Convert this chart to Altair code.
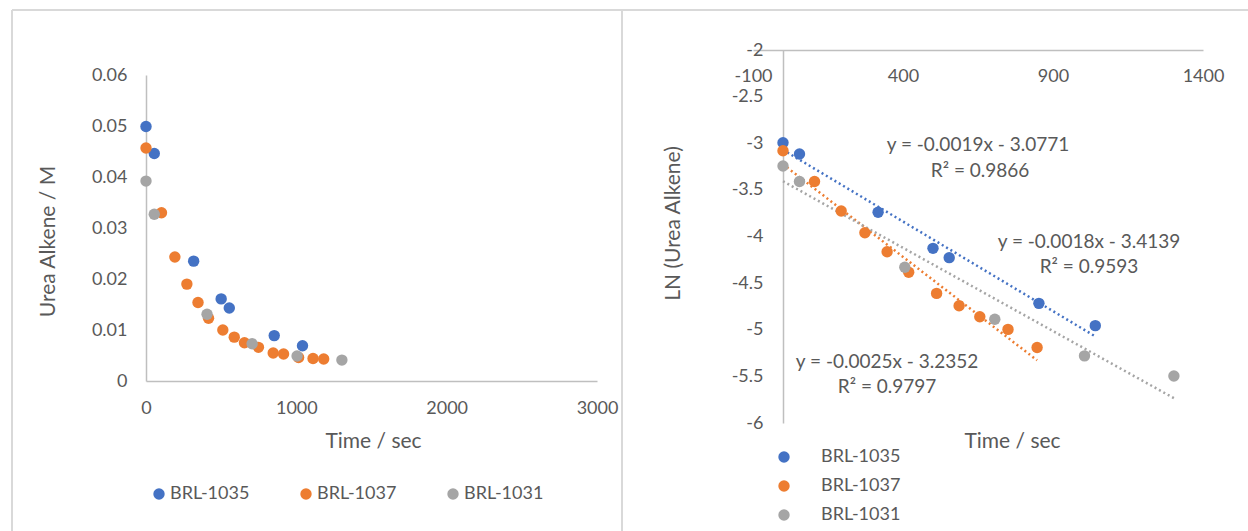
import altair as alt
import pandas as pd

SERIES = ["BRL-1035", "BRL-1037", "BRL-1031"]
COLORS = ["#4472C4", "#ED7D31", "#A5A5A5"]

# ---- left panel: concentration vs time ----
t_1035 = [0, 55, 317, 500, 554, 853, 1041]
c_1035 = [0.0499, 0.0446, 0.0235, 0.0161, 0.0143, 0.0089, 0.0069]

t_1037 = [0, 103, 192, 272, 346, 416, 511, 587, 655, 748, 846, 915, 1015, 1111, 1182]
c_1037 = [0.0457, 0.0330, 0.0243, 0.0190, 0.0154, 0.0123, 0.0100, 0.0086,
          0.0075, 0.0066, 0.0055, 0.0053, 0.0046, 0.0044, 0.0043]

t_1031 = [0, 55, 406, 706, 1005, 1303]
c_1031 = [0.0392, 0.0327, 0.0131, 0.0073, 0.0049, 0.0041]

# ---- right panel: LN(concentration) vs time ----
lt_1035 = [0, 55, 317, 500, 554, 853, 1041]
ln_1035 = [-2.994, -3.115, -3.74, -4.127, -4.227, -4.717, -4.956]

lt_1037 = [0, 105, 194, 273, 347, 419, 512, 587, 656, 750, 847]
ln_1037 = [-3.08, -3.41, -3.727, -3.96, -4.163, -4.384, -4.61, -4.742, -4.86, -4.996, -5.19]

lt_1031 = [0, 55, 406, 706, 1005, 1303]
ln_1031 = [-3.244, -3.41, -4.33, -4.888, -5.28, -5.496]

# trendline labels
eq_text = ["y = -0.0019x - 3.0771", "R\u00b2 = 0.9866",
           "y = -0.0018x - 3.4139", "R\u00b2 = 0.9593",
           "y = -0.0025x - 3.2352", "R\u00b2 = 0.9797"]
eq_t = [650, 657, 1020, 1020, 347, 347]
eq_ln = [-3.019, -3.298, -4.059, -4.327, -5.346, -5.614]

left_x_ticks = [0, 1000, 2000, 3000]
left_y_ticks = [0, 0.01, 0.02, 0.03, 0.04, 0.05, 0.06]
right_x_ticks = [-100, 400, 900, 1400]
right_y_ticks = [-6, -5.5, -5, -4.5, -4, -3.5, -3, -2.5, -2]

FONT = "Lato"
TXT = "#595959"

left_df = pd.DataFrame({
    "t": t_1035 + t_1037 + t_1031,
    "c": c_1035 + c_1037 + c_1031,
    "series": [SERIES[0]] * len(t_1035) + [SERIES[1]] * len(t_1037) + [SERIES[2]] * len(t_1031),
})
right_df = pd.DataFrame({
    "t": lt_1035 + lt_1037 + lt_1031,
    "ln": ln_1035 + ln_1037 + ln_1031,
    "series": [SERIES[0]] * len(lt_1035) + [SERIES[1]] * len(lt_1037) + [SERIES[2]] * len(lt_1031),
})
eq_df = pd.DataFrame({"label": eq_text, "t": eq_t, "ln": eq_ln})

axis_common = dict(
    grid=False, ticks=False, tickSize=0, domainColor="#BFBFBF", domainWidth=1.5,
    labelFont=FONT, labelFontSize=18, labelColor=TXT, labelFlush=False,
    titleFont=FONT, titleFontSize=21, titleColor=TXT, titleFontWeight="normal",
    labelExpr="'' + datum.value",
)
legend_common = dict(
    title=None, labelFont=FONT, labelFontSize=18, labelColor=TXT,
    symbolType="circle", symbolSize=130, symbolStrokeWidth=0, symbolOpacity=1,
    padding=0,
)

lx_scale = alt.Scale(domain=[0, 3000], range=[146, 597], nice=False, zero=False)
ly_scale = alt.Scale(domain=[0, 0.06], range=[381, 75], nice=False, zero=False)
rx_scale = alt.Scale(domain=[-100, 1400], range=[753, 1203], nice=False, zero=False)
ry_scale = alt.Scale(domain=[-6, -2], range=[423, 50], nice=False, zero=False)
col_scale = alt.Scale(domain=SERIES, range=COLORS)

left = alt.Chart(left_df).mark_point(filled=True, opacity=1, size=130, strokeWidth=0).encode(
    x=alt.X("t:Q", scale=lx_scale, axis=alt.Axis(
        values=left_x_ticks, orient="bottom", offset=-150, labelPadding=18,
        title="Time / sec", titleX=373, titleY=60, titleAlign="center", titleBaseline="middle",
        **axis_common)),
    y=alt.Y("c:Q", scale=ly_scale, axis=alt.Axis(
        values=left_y_ticks, orient="left", offset=-146, labelPadding=19,
        title="Urea Alkene / M", titleX=-98, titleY=241, titleAngle=-90,
        titleAlign="center", titleBaseline="middle", **axis_common)),
    color=alt.Color("series:N", scale=col_scale, sort=SERIES, legend=alt.Legend(
        orient="none", direction="horizontal", columns=3, legendX=150, legendY=485,
        labelOffset=2, columnPadding=47, **legend_common)),
)

trend = alt.Chart(right_df).transform_regression(
    "t", "ln", groupby=["series"]
).mark_line(strokeDash=[2, 3], strokeWidth=2.5).encode(
    x=alt.X("t:Q", scale=rx_scale),
    y=alt.Y("ln:Q", scale=ry_scale),
    stroke=alt.Stroke("series:N", scale=col_scale, legend=None),
)

rpoints = alt.Chart(right_df).mark_point(filled=True, opacity=1, size=130, strokeWidth=0).encode(
    x=alt.X("t:Q", scale=rx_scale, axis=alt.Axis(
        values=right_x_ticks, orient="bottom", offset=-481, labelPadding=17,
        title="Time / sec", titleX=1012, titleY=391, titleAlign="center", titleBaseline="middle",
        **axis_common)),
    y=alt.Y("ln:Q", scale=ry_scale, axis=alt.Axis(
        values=right_y_ticks, orient="left", offset=-783, labelPadding=20,
        title="LN (Urea Alkene)", titleX=-110, titleY=223, titleAngle=-90,
        titleAlign="center", titleBaseline="middle", **axis_common)),
    color=alt.Color("series:N", scale=col_scale, sort=SERIES, legend=alt.Legend(
        orient="none", direction="vertical", legendX=775, legendY=448,
        labelOffset=28, rowPadding=11, **legend_common)),
)

labels = alt.Chart(eq_df).mark_text(
    font=FONT, fontSize=19, color=TXT, align="center", baseline="middle"
).encode(
    x=alt.X("t:Q", scale=rx_scale),
    y=alt.Y("ln:Q", scale=ry_scale),
    text="label:N",
)

right = alt.layer(trend, rpoints, labels)

one = alt.Data(values=[{}])
FRAME = "#D9D9D9"
frame_top = alt.Chart(one).mark_rule(color=FRAME, strokeWidth=2).encode(
    x=alt.value(12), x2=alt.value(1248), y=alt.value(10))
frame_left = alt.Chart(one).mark_rule(color=FRAME, strokeWidth=2).encode(
    x=alt.value(12), y=alt.value(10), y2=alt.value(531))
frame_mid = alt.Chart(one).mark_rule(color=FRAME, strokeWidth=2).encode(
    x=alt.value(622), y=alt.value(10), y2=alt.value(531))

chart = alt.layer(frame_top, frame_left, frame_mid, left, right).resolve_scale(
    x="independent", y="independent", color="independent"
).properties(
    width=1248, height=531, padding=0,
    autosize=alt.AutoSizeParams(type="none"),
    background="white",
).configure_view(strokeWidth=0)

chart.save("out.html", embed_options={"renderer": "svg", "actions": False})
